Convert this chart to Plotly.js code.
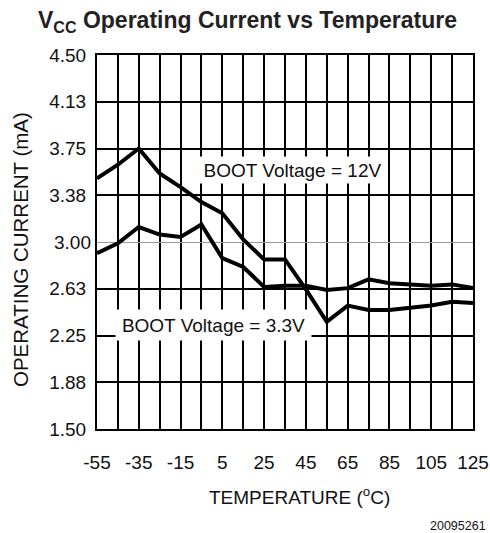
<!DOCTYPE html>
<html>
<head>
<meta charset="utf-8">
<script src="https://cdn.plot.ly/plotly-3.0.1.min.js"></script>
<style>html,body{margin:0;padding:0;background:#fff;}#chart{width:490px;height:533px;}</style>
</head>
<body>
<div id="chart"></div>
<script>
// Data
const temperature = [-55, -45, -35, -25, -15, -5, 5, 15, 25, 35, 45, 55, 65, 75, 85, 95, 105, 115, 125];
const current12V  = [3.51, 3.62, 3.75, 3.55, 3.44, 3.32, 3.23, 3.02, 2.86, 2.86, 2.62, 2.36, 2.49, 2.455, 2.455, 2.47, 2.49, 2.52, 2.51];
const current33V  = [2.91, 2.99, 3.12, 3.06, 3.04, 3.14, 2.87, 2.80, 2.64, 2.65, 2.65, 2.615, 2.63, 2.70, 2.67, 2.66, 2.65, 2.66, 2.63];

const xTickVals = [-55, -35, -15, 5, 25, 45, 65, 85, 105, 125];
const xTickText = ['-55', '-35', '-15', '5', '25', '45', '65', '85', '105', '125'];
const yTickVals = [1.50, 1.875, 2.25, 2.625, 3.375, 3.75, 4.125, 4.50];
const yTickText = ['1.50', '1.88', '2.25', '2.63', '3.38', '3.75', '4.13', '4.50'];
const yMidVal = [3.00];
const yMidText = ['3.00'];

const label12V = 'BOOT Voltage = 12V';
const label33V = 'BOOT Voltage = 3.3V';

const FONT = 'Liberation Sans, Arial, sans-serif';
const INK = '#111';

const traces = [
  {x: temperature, y: current12V, type: 'scatter', mode: 'lines', name: label12V,
   line: {color: '#000', width: 4}, hoverinfo: 'skip'},
  {x: temperature, y: current33V, type: 'scatter', mode: 'lines', name: label33V,
   line: {color: '#000', width: 4}, hoverinfo: 'skip'},
  {x: [temperature[0]], y: [yMidVal[0]], yaxis: 'y2', type: 'scatter', mode: 'lines',
   line: {width: 0}, hoverinfo: 'skip', showlegend: false}
];

const layout = {
  width: 490, height: 533,
  margin: {l: 97, r: 17, t: 55, b: 104, pad: 0},
  paper_bgcolor: '#fff', plot_bgcolor: '#fff',
  showlegend: false,
  font: {family: FONT, color: INK, size: 19},
  title: {
    text: '<b>V<sub>CC</sub> Operating Current vs Temperature</b>',
    font: {family: FONT, size: 23, color: '#222'},
    x: 0.505, xref: 'container', xanchor: 'center',
    y: 1 - 20 / 533, yref: 'container', yanchor: 'middle'
  },
  xaxis: {
    range: [-55, 125], tickmode: 'array', tickvals: xTickVals, ticktext: xTickText,
    showgrid: true, gridcolor: '#000', gridwidth: 2, zeroline: false,
    minor: {tick0: -45, dtick: 20, showgrid: true, gridcolor: '#000', gridwidth: 2, ticks: ''},
    showline: true, linecolor: '#000', linewidth: 2, mirror: true,
    ticks: '', tickfont: {family: FONT, size: 19, color: INK}, ticklabelstandoff: 15,
    fixedrange: true
  },
  yaxis: {
    range: [1.5, 4.5], tickmode: 'array', tickvals: yTickVals, ticktext: yTickText,
    showgrid: true, gridcolor: '#000', gridwidth: 2, zeroline: false,
    showline: true, linecolor: '#000', linewidth: 2, mirror: true,
    ticks: '', tickfont: {family: FONT, size: 19, color: INK}, ticklabelstandoff: 5,
    fixedrange: true
  },
  yaxis2: {
    overlaying: 'y', side: 'left', range: [1.5, 4.5], tickmode: 'array',
    tickvals: yMidVal, ticktext: yMidText,
    showgrid: true, gridcolor: '#9a9a9a', gridwidth: 1, zeroline: false,
    showline: false, ticks: '', tickfont: {family: FONT, size: 19, color: INK}, ticklabelstandoff: 5,
    fixedrange: true
  },
  annotations: [
    {text: label12V, x: 38.6, y: 3.578, xref: 'x', yref: 'y', showarrow: false,
     bgcolor: '#fff', borderpad: 0, width: 189, height: 26,
     font: {family: FONT, size: 19, color: INK}},
    {text: label33V, x: 0.9, y: 2.334, xref: 'x', yref: 'y', showarrow: false,
     bgcolor: '#fff', borderpad: 0, width: 195, height: 30,
     font: {family: FONT, size: 19, color: INK}},
    {text: 'OPERATING CURRENT (mA)', textangle: -90, xref: 'paper', yref: 'paper',
     x: (20 - 97) / 376, y: (429 - 250) / 374, xanchor: 'center', yanchor: 'middle', showarrow: false,
     font: {family: FONT, size: 20.5, color: INK}},
    {text: 'TEMPERATURE (<sup>o</sup>C)', xref: 'paper', yref: 'paper',
     x: (299 - 97) / 376, y: (429 - 496) / 374, xanchor: 'center', yanchor: 'middle', showarrow: false,
     font: {family: FONT, size: 19, color: INK}},
    {text: '20095261', xref: 'paper', yref: 'paper',
     x: (488 - 97) / 376, y: (429 - 526) / 374, xanchor: 'right', yanchor: 'middle', showarrow: false,
     font: {family: FONT, size: 12.5, color: INK}}
  ]
};

Plotly.newPlot('chart', traces, layout, {staticPlot: true, displayModeBar: false});
</script>
</body>
</html>
